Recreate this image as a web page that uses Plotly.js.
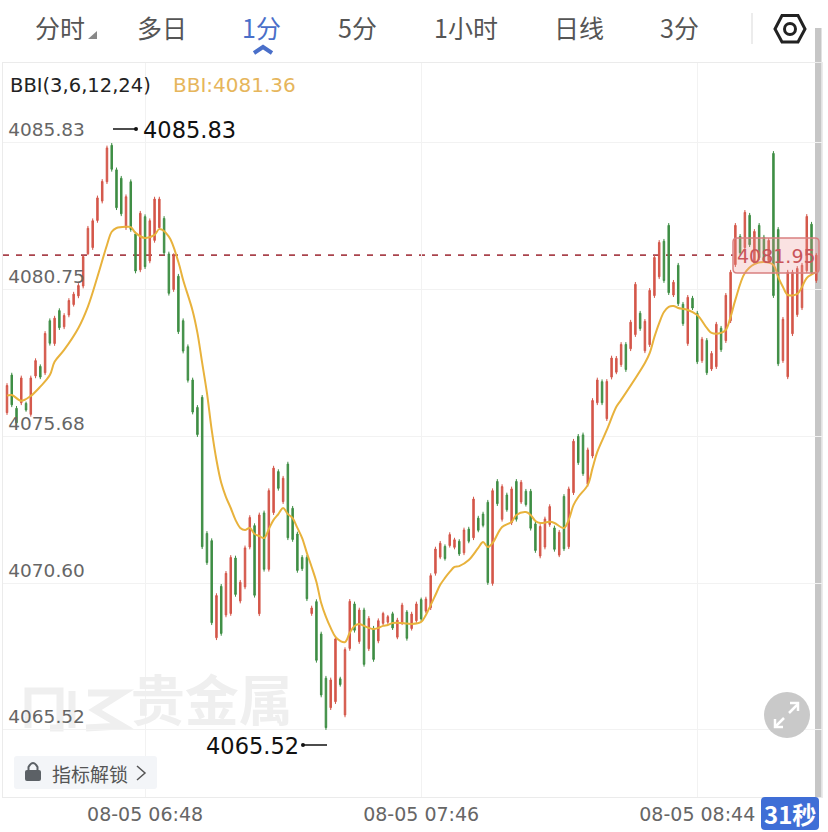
<!DOCTYPE html>
<html><head><meta charset="utf-8">
<script src="https://cdn.plot.ly/plotly-3.0.1.min.js"></script>
<style>html,body{margin:0;padding:0;background:#fff;overflow:hidden}#c{width:828px;height:832px}</style>
</head><body><div id="c"></div>
<script>
const tabs=['分时','多日','1分','5分','1小时','日线','3分'];
const indicatorName='BBI(3,6,12,24)', indicatorText='BBI:4081.36';
const lastPrice=4081.95, maxPrice=4085.83, minPrice=4065.52;
const yTicks=[4085.83,4080.75,4075.68,4070.60,4065.52];
const xTicks=['08-05 06:48','08-05 07:46','08-05 08:44'];
const firstMinute=6*60+19;

const high=[4077.52,4077.88,4076.73,4077.78,4076.88,4077.78,4078.38,4078.17,4079.32,4079.76,4079.85,4080.11,4079.94,4080.46,4080.68,4080.98,4081.95,4082.96,4083.22,4084.01,4084.58,4085.74,4085.83,4084.98,4084.69,4084.05,4084.57,4082.76,4083.48,4083.36,4083.22,4083.97,4083.97,4083.30,4082.07,4082.01,4081.30,4079.76,4078.86,4077.71,4076.76,4077.11,4072.40,4072.15,4070.25,4070.57,4071.02,4071.57,4071.55,4070.71,4071.90,4072.95,4072.67,4073.04,4073.11,4073.88,4074.66,4074.54,4074.31,4074.80,4073.27,4072.38,4071.57,4071.57,4069.82,4070.04,4068.92,4067.39,4067.33,4068.75,4067.36,4068.38,4070.05,4069.96,4069.75,4069.75,4069.46,4069.12,4069.38,4069.61,4069.50,4069.61,4069.40,4069.92,4069.67,4069.61,4069.96,4070.10,4070.13,4070.94,4071.86,4072.06,4071.94,4072.36,4072.17,4072.12,4072.52,4072.55,4073.59,4072.93,4073.07,4073.48,4073.88,4074.20,4074.02,4073.73,4073.94,4074.20,4074.17,4073.86,4073.86,4072.73,4072.64,4072.90,4073.33,4072.59,4072.44,4073.68,4073.94,4075.59,4075.76,4075.81,4075.29,4077.00,4077.71,4077.65,4077.66,4078.47,4078.46,4078.94,4078.94,4079.71,4081.02,4080.02,4079.74,4080.81,4081.95,4082.47,4082.51,4083.06,4081.09,4081.68,4080.33,4080.57,4080.54,4080.02,4079.12,4079.08,4078.63,4079.64,4079.50,4080.64,4081.44,4083.06,4082.68,4083.51,4083.41,4082.85,4083.06,4082.65,4082.54,4085.55,4082.92,4079.81,4081.44,4081.44,4081.57,4081.68,4083.37,4083.10,4082.02];
const low=[4076.42,4076.69,4076.07,4076.76,4076.53,4076.36,4077.69,4077.66,4077.80,4078.82,4078.81,4079.36,4079.39,4079.80,4080.17,4080.46,4080.80,4081.95,4082.13,4083.07,4083.74,4084.41,4084.84,4083.51,4083.30,4082.82,4082.76,4081.32,4081.36,4081.47,4081.67,4082.38,4082.82,4081.95,4080.55,4080.68,4079.22,4078.55,4077.54,4076.44,4075.66,4071.78,4071.23,4069.15,4068.63,4068.78,4069.42,4069.47,4070.13,4069.90,4070.39,4071.77,4070.10,4069.46,4071.00,4071.00,4072.96,4073.80,4073.34,4072.09,4072.03,4070.96,4071.02,4069.98,4069.47,4067.85,4066.65,4065.52,4066.21,4066.42,4067.02,4065.96,4068.26,4068.89,4068.50,4067.71,4068.25,4067.88,4068.52,4069.15,4069.19,4068.98,4068.66,4069.15,4068.61,4068.96,4069.23,4069.29,4069.56,4069.67,4070.86,4071.43,4071.38,4071.83,4071.77,4071.54,4071.57,4071.98,4072.09,4072.36,4072.53,4070.54,4070.51,4073.27,4072.73,4073.07,4072.61,4072.73,4073.34,4073.25,4072.42,4071.65,4071.46,4071.77,4072.55,4071.69,4071.50,4071.71,4071.78,4073.65,4074.69,4074.31,4073.94,4074.92,4076.76,4076.76,4076.21,4077.65,4077.83,4078.08,4077.91,4078.63,4079.12,4079.33,4078.56,4078.77,4080.47,4081.12,4080.99,4080.57,4080.50,4080.19,4079.50,4078.81,4080.05,4078.18,4078.22,4077.80,4077.94,4078.01,4078.60,4078.91,4079.60,4081.54,4081.95,4082.13,4082.23,4081.61,4081.78,4081.68,4081.68,4080.47,4078.11,4078.22,4077.66,4079.15,4079.81,4080.05,4081.33,4081.26,4080.99];
const open=[4076.50,4077.80,4076.65,4076.84,4076.82,4076.44,4077.77,4078.10,4077.88,4079.68,4078.89,4080.03,4079.47,4079.88,4080.24,4080.54,4080.88,4082.00,4082.21,4083.15,4083.82,4084.49,4085.75,4084.90,4084.61,4082.90,4084.49,4082.68,4081.44,4083.28,4081.75,4082.46,4082.90,4083.22,4081.99,4080.76,4081.22,4079.68,4078.78,4077.63,4076.68,4077.03,4072.32,4072.07,4068.71,4070.49,4069.50,4069.55,4071.47,4069.98,4070.47,4071.85,4072.59,4069.54,4073.03,4071.08,4073.04,4074.46,4073.42,4074.72,4073.19,4072.30,4071.49,4071.49,4069.55,4069.96,4068.84,4067.31,4066.29,4066.50,4067.29,4066.04,4068.34,4069.88,4068.58,4069.67,4068.33,4069.04,4068.60,4069.21,4069.25,4069.54,4068.73,4069.21,4069.60,4069.03,4069.30,4070.03,4069.63,4069.75,4070.94,4071.50,4071.87,4071.90,4071.84,4072.05,4071.65,4072.47,4072.17,4072.85,4072.99,4073.40,4070.59,4074.12,4072.81,4073.65,4072.69,4074.12,4073.41,4073.78,4073.78,4072.65,4071.54,4071.85,4072.63,4072.51,4071.57,4073.60,4071.86,4073.73,4075.68,4075.73,4074.02,4075.00,4076.84,4077.57,4076.29,4077.73,4077.90,4078.16,4078.86,4078.71,4079.20,4079.94,4078.64,4078.85,4080.55,4081.20,4082.43,4082.98,4080.57,4081.60,4080.25,4078.89,4080.46,4079.94,4078.30,4079.00,4078.01,4078.09,4079.42,4078.99,4079.68,4081.62,4082.60,4082.21,4083.33,4081.69,4082.98,4082.57,4081.76,4085.47,4082.84,4078.30,4077.74,4079.23,4079.89,4080.13,4081.41,4083.02,4081.07];
const close=[4077.44,4076.77,4076.15,4077.70,4076.59,4077.70,4078.30,4077.73,4079.24,4078.90,4079.77,4079.44,4079.86,4080.38,4080.60,4080.90,4081.90,4082.88,4083.14,4083.93,4084.50,4085.66,4084.92,4083.59,4083.38,4083.97,4082.84,4081.40,4083.40,4081.55,4083.14,4083.89,4083.89,4082.03,4080.63,4081.93,4079.30,4078.63,4077.62,4076.52,4075.74,4071.86,4071.31,4069.23,4070.17,4068.86,4070.94,4071.49,4070.21,4070.63,4071.82,4072.87,4070.18,4072.96,4071.08,4073.80,4074.58,4073.88,4074.23,4072.17,4072.11,4071.04,4071.10,4070.06,4069.74,4067.93,4066.73,4065.60,4067.25,4068.67,4067.09,4068.30,4069.97,4068.97,4069.67,4067.79,4069.38,4067.96,4069.30,4069.55,4069.44,4069.05,4069.32,4069.84,4068.69,4069.53,4069.88,4069.36,4070.05,4070.86,4071.78,4071.98,4071.45,4072.28,4072.10,4071.61,4072.44,4072.05,4073.51,4072.43,4072.60,4070.62,4073.80,4073.35,4073.94,4073.14,4073.86,4072.81,4074.09,4073.32,4072.50,4071.73,4072.56,4072.82,4073.25,4071.77,4072.36,4071.79,4073.86,4075.51,4074.77,4074.39,4075.21,4076.92,4077.63,4076.84,4077.58,4078.39,4078.38,4078.86,4077.99,4079.63,4080.94,4079.41,4079.66,4080.73,4081.87,4082.39,4081.07,4080.65,4081.01,4080.27,4079.58,4080.49,4080.12,4078.26,4079.04,4077.88,4078.55,4079.56,4078.68,4080.56,4081.36,4082.98,4082.03,4083.43,4082.31,4082.77,4081.86,4081.76,4082.46,4080.55,4078.19,4079.73,4081.36,4081.36,4081.49,4081.60,4083.29,4081.34,4081.95];

const bbiCandle=[0,1,3,5,7,9,10,12,15,17,19,21,22,23,25,26,27,29,31,32,34,36,37,39,40,41,42,43,44,45,46,47,48,49,50,51,52,53,54,55,56,57,58,59,60,61,62,63,64,65,66,67,68,69,70,71,72,73,74,75,76,77,78,79,80,81,83,85,87,88,89,90,91,92,93,94,95,97,99,100,101,102,104,106,107,109,110,111,112,114,115,117,118,119,120,122,123,124,126,128,129,134,135,136,137,138,139,140,141,143,145,147,148,150,151,152,153,155,157,159,161,162,163,164,166,167,168,170];
const bbiValue=[4077.09,4077.11,4076.91,4077.08,4077.40,4077.80,4078.26,4078.67,4079.43,4080.17,4081.20,4082.30,4082.76,4082.89,4082.93,4082.92,4082.72,4082.54,4082.65,4082.85,4082.59,4081.71,4081.09,4080.02,4079.26,4078.22,4077.18,4075.90,4074.86,4074.07,4073.58,4073.20,4072.79,4072.51,4072.44,4072.51,4072.30,4072.23,4072.16,4072.47,4072.79,4072.99,4073.20,4072.99,4072.85,4072.51,4072.16,4071.64,4071.16,4070.64,4069.91,4069.43,4069.05,4068.74,4068.60,4068.56,4068.88,4069.12,4069.19,4069.12,4069.05,4069.01,4069.05,4069.12,4069.15,4069.22,4069.22,4069.19,4069.26,4069.50,4069.84,4070.19,4070.54,4070.78,4070.99,4071.16,4071.19,4071.40,4071.82,4072.02,4071.85,4071.99,4072.54,4072.72,4072.96,4073.06,4072.96,4072.75,4072.68,4072.72,4072.68,4072.51,4072.79,4073.30,4073.58,4074.00,4074.58,4075.14,4075.90,4076.70,4076.94,4078.22,4078.56,4079.12,4079.60,4079.98,4080.16,4080.19,4080.12,4080.05,4079.88,4079.43,4079.26,4079.26,4079.36,4079.81,4080.40,4081.33,4081.64,4081.71,4081.61,4081.19,4080.85,4080.57,4080.61,4080.85,4081.16,4081.36];

const pad=n=>String(n).padStart(2,'0');
const times=high.map((_,i)=>{const m=firstMinute+i;return '08-05 '+pad(Math.floor(m/60))+':'+pad(m%60);});

const W=828,H=832,L=3,R=6,T=63,B=35;
const X=x=>(x-L)/(W-L-R), Y=y=>(H-B-y)/(H-T-B);
const F='"DejaVu Sans","Noto Sans CJK SC",sans-serif';
const CJK='"Noto Sans CJK SC",sans-serif';
const RED='#d4574a', GREEN='#3f8e45', GOLD='#e8b23c', GRAY='#666666';

function note(text,x,y,size,color,anchor,extra){
  return Object.assign({text,x:X(x),y:Y(y),xref:'paper',yref:'paper',showarrow:false,xanchor:anchor||'center',yanchor:'middle',
    font:{family:F,size,color},borderpad:0},extra||{});
}
function path(d,opt){return Object.assign({type:'path',xref:'paper',yref:'paper',path:d,line:{width:0},layer:'above'},opt||{});}
function poly(pts,close){return pts.map((p,i)=>(i?'L':'M')+X(p[0])+' '+Y(p[1])).join(' ')+(close?' Z':'');}
function rr(x0,y0,x1,y1,r){
  const P=(c,x,y)=>c+X(x)+' '+Y(y);
  return [P('M',x0+r,y0),P('L',x1-r,y0),'Q'+X(x1)+' '+Y(y0)+' '+X(x1)+' '+Y(y0+r),P('L',x1,y1-r),'Q'+X(x1)+' '+Y(y1)+' '+X(x1-r)+' '+Y(y1),P('L',x0+r,y1),'Q'+X(x0)+' '+Y(y1)+' '+X(x0)+' '+Y(y1-r),P('L',x0,y0+r),'Q'+X(x0)+' '+Y(y0)+' '+X(x0+r)+' '+Y(y0),'Z'].join(' ');
}
function circle(cx,cy,r,opt){return Object.assign({type:'circle',xref:'paper',yref:'paper',x0:X(cx-r),x1:X(cx+r),y0:Y(cy+r),y1:Y(cy-r),line:{width:0},layer:'above'},opt||{});}

const tabX=[60,162,261,357,466,579,679];
const annotations=tabs.map((t,i)=>note(t,tabX[i],26.5,25,'#555555','center',{font:{family:CJK,size:25,color:t==='1分'?'#4a6fc9':'#555555'}}));
annotations.push(
  note(indicatorName,9,85,19.5,'#222222','left'),
  note(indicatorText,172,85,20,'#e6b65c','left'),
  note(String(maxPrice),142,130,22.5,'#111111','left'),
  note(String(minPrice),205,746,22.5,'#111111','left'),
  note(String(lastPrice),776,256,19,'#c9555a','center'),
  note('指标解锁',90,773,19,'#555555','center',{font:{family:CJK,size:19,color:'#555555'}}),
  note('31秒',790,813,24,'#ffffff','center',{font:{family:CJK,size:24,color:'#ffffff',weight:700}})
);

const WM={color:'#efefef',width:7};
const shapes=[
  path(poly([[815,28],[821.5,28],[821.5,797],[815,797]],true),{fillcolor:'#c6c6c6',layer:'below'}),
  {type:'line',xref:'paper',yref:'y',x0:0,x1:X(733),y0:lastPrice,y1:lastPrice,line:{color:'#a9434c',width:1.8,dash:'6px,7px'},layer:'below'},
  path(rr(733,238,819,273,4),{fillcolor:'rgba(238,150,150,0.28)',line:{color:'#d98080',width:1.5}}),
  path(poly([[88,39],[97,39],[97,31]],true),{fillcolor:'#888888'}),
  path(poly([[254,53],[263,47],[272,53]]),{line:{color:'#4a6fc9',width:4}}),
  path(poly([[752,13],[752,44]]),{line:{color:'#e6e6e6',width:1.5}}),
  path(poly([[775,29],[782,15.5],[798,15.5],[805,29],[798,42],[782,42]],true),{line:{color:'#222222',width:3}}),
  circle(790,29,5.5,{line:{color:'#222222',width:3}}),
  path(poly([[113,129],[135,129]]),{line:{color:'#111111',width:1.5}}),
  circle(136,129,2,{fillcolor:'#111111'}),
  path(poly([[303,745],[327,745]]),{line:{color:'#111111',width:1.5}}),
  circle(303,745,2,{fillcolor:'#111111'}),
  path(poly([[28,728],[28,691],[60,691],[60,728],[50,728]]),{line:WM,layer:'below'}),
  path(poly([[72,691],[72,728]]),{line:WM,layer:'below'}),
  path(poly([[88,693],[122,693],[95,710],[122,726],[86,728]]),{line:WM,layer:'below'}),
  path(rr(14,756,157,789,3),{fillcolor:'#f3f5f8'}),
  path(rr(25,770,41,781,2),{fillcolor:'#5c6166'}),
  path('M'+X(28.5)+' '+Y(770)+' L'+X(28.5)+' '+Y(767)+' Q'+X(33)+' '+Y(759)+' '+X(37.5)+' '+Y(767)+' L'+X(37.5)+' '+Y(770),{line:{color:'#5c6166',width:2}}),
  path(poly([[137,766],[145,773],[137,780]]),{line:{color:'#555555',width:1.5}}),
  circle(787,715,23,{fillcolor:'#c9c9c9'}),
  path(poly([[789,713],[798,704]]),{line:{color:'#ffffff',width:2.5}}),
  path(poly([[790,703],[798,703],[798,711]]),{line:{color:'#ffffff',width:2.5}}),
  path(poly([[784,718],[775,727]]),{line:{color:'#ffffff',width:2.5}}),
  path(poly([[775,719],[775,727],[783,727]]),{line:{color:'#ffffff',width:2.5}}),
  path(rr(761,797,819,830,4),{fillcolor:'#3f6ed6'})
];

const traces=[
 {type:'scatter',mode:'text',x:[times[43]],y:[4066.30],text:['贵金属'],textposition:'middle center',
  textfont:{family:CJK,size:54,color:'#efefef',weight:700},hoverinfo:'skip',cliponaxis:false},
 {type:'candlestick',x:times,open,high,low,close,hoverinfo:'skip',whiskerwidth:0,
  increasing:{line:{color:RED,width:1},fillcolor:RED},decreasing:{line:{color:GREEN,width:1},fillcolor:GREEN}},
 {type:'scatter',mode:'lines',x:bbiCandle.map(i=>times[i]),y:bbiValue,line:{color:GOLD,width:2,shape:'spline',smoothing:1},hoverinfo:'skip'}
];
const layout={
  width:W,height:H,margin:{l:L,r:R,t:T,b:B,pad:0},paper_bgcolor:'rgba(0,0,0,0)',plot_bgcolor:'rgba(0,0,0,0)',
  showlegend:false,boxgap:0.55,hovermode:false,
  xaxis:{type:'category',categoryorder:'array',categoryarray:times,range:[-0.84,171.2],rangeslider:{visible:false},
    tickmode:'array',tickvals:xTicks,ticktext:xTicks,ticks:'',showgrid:true,gridcolor:'#f2f2f2',gridwidth:1,
    showline:true,mirror:true,linecolor:'#ebebeb',linewidth:1,zeroline:false,tickangle:0,
    tickfont:{family:F,size:19,color:GRAY}},
  yaxis:{range:[4063.20,4088.598],tickmode:'array',tickvals:yTicks,ticktext:yTicks.map(v=>v.toFixed(2)),
    ticks:'',ticklabelposition:'inside',ticklabelshift:-13,ticklabelstandoff:6,showgrid:true,gridcolor:'#f2f2f2',gridwidth:1,
    showline:true,mirror:true,linecolor:'#ebebeb',linewidth:1,zeroline:false,
    tickfont:{family:F,size:18.5,color:GRAY}},
  annotations,shapes
};
Plotly.newPlot('c',traces,layout,{displayModeBar:false,staticPlot:true});
</script></body></html>
